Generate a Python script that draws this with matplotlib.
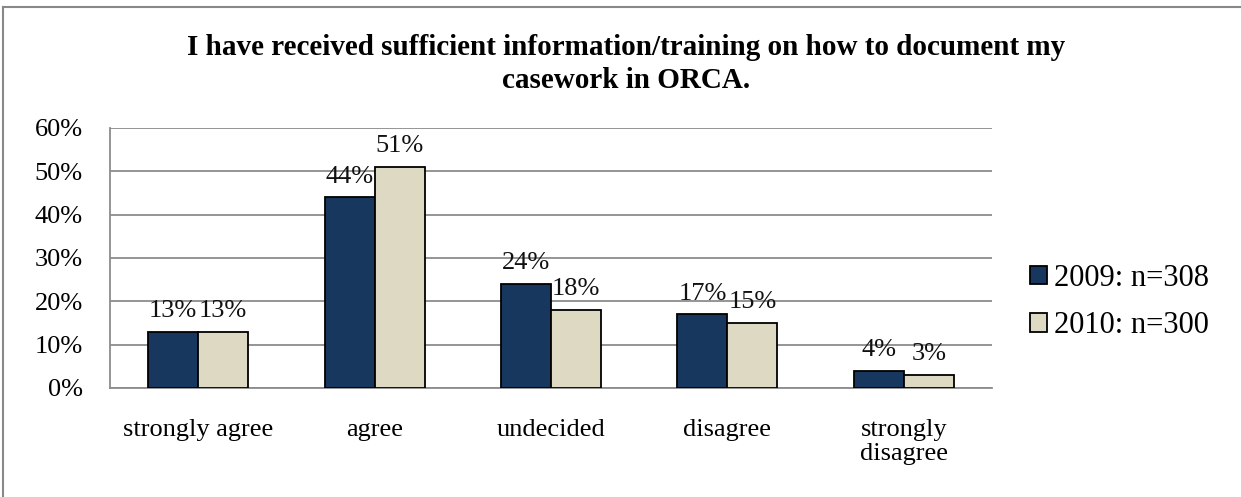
import matplotlib
matplotlib.use("Agg")
import matplotlib.pyplot as plt
import numpy as np
from matplotlib.lines import Line2D

categories = ["strongly agree", "agree", "undecided", "disagree", "strongly\ndisagree"]
series_names = ["2009: n=308", "2010: n=300"]
values_2009 = [13, 44, 24, 17, 4]
values_2010 = [13, 51, 18, 15, 3]
yticks = [0, 10, 20, 30, 40, 50, 60]
title = "I have received sufficient information/training on how to document my\ncasework in ORCA."

colors = ["#17375E", "#DDD9C3"]

plt.rcParams['font.family'] = ['Liberation Serif', 'DejaVu Serif']

W, H = 1241, 497
fig = plt.figure(figsize=(W / 100, H / 100), dpi=100)

# outer chart border (left & top visible)
fig.add_artist(Line2D([3 / W, 3 / W], [0, 1 - 7 / H], color="#888888", lw=1.5, transform=fig.transFigure))
fig.add_artist(Line2D([3 / W, 1], [1 - 7 / H, 1 - 7 / H], color="#888888", lw=1.5, transform=fig.transFigure))

left, right, top, bottom = 110, 992, 128, 388
ax = fig.add_axes([left / W, 1 - bottom / H, (right - left) / W, (bottom - top) / H])

fs = 19
x = np.arange(len(categories))
bw = 0.283
b1 = ax.bar(x - bw / 2, values_2009, bw, color=colors[0], edgecolor="black", linewidth=1.3, zorder=3, label=series_names[0])
b2 = ax.bar(x + bw / 2, values_2010, bw, color=colors[1], edgecolor="black", linewidth=1.3, zorder=3, label=series_names[1])

for bars, vals in ((b1, values_2009), (b2, values_2010)):
    for rect, v in zip(bars, vals):
        ax.text(rect.get_x() + rect.get_width() / 2, v + 2.2, f"{v}%", ha="center", va="bottom",
                fontsize=fs, color="#111111", zorder=4)

ax.set_xlim(-0.5, len(categories) - 0.5)
ax.set_ylim(0, 60)
ax.set_yticks(yticks)
ax.set_yticklabels([f"{t}%" for t in yticks], fontsize=fs)
ax.set_xticks(x)
ax.set_xticklabels(categories, fontsize=fs, linespacing=1.14)
ax.tick_params(axis="y", length=0, pad=19.5)
ax.tick_params(axis="x", length=0, pad=22)
ax.grid(axis="y", color="#8C8C8C", linewidth=1.3, zorder=0)
for s in ["top", "right"]:
    ax.spines[s].set_visible(False)
for s in ["left", "bottom"]:
    ax.spines[s].set_color("#8C8C8C")
    ax.spines[s].set_linewidth(1.3)

fig.text(626 / W, 1 - 64 / H, title, ha="center", va="center", fontsize=21, fontweight="bold",
         linespacing=1.3)

leg = fig.legend(handles=[b1, b2], labels=series_names, loc="center left",
                 bbox_to_anchor=(1030 / W, 1 - 302 / H), frameon=False, fontsize=22,
                 handlelength=0.56, handleheight=0.56, handletextpad=0.23, labelspacing=0.6,
                 borderpad=0, borderaxespad=0)

fig.savefig("out.png", dpi=100)
